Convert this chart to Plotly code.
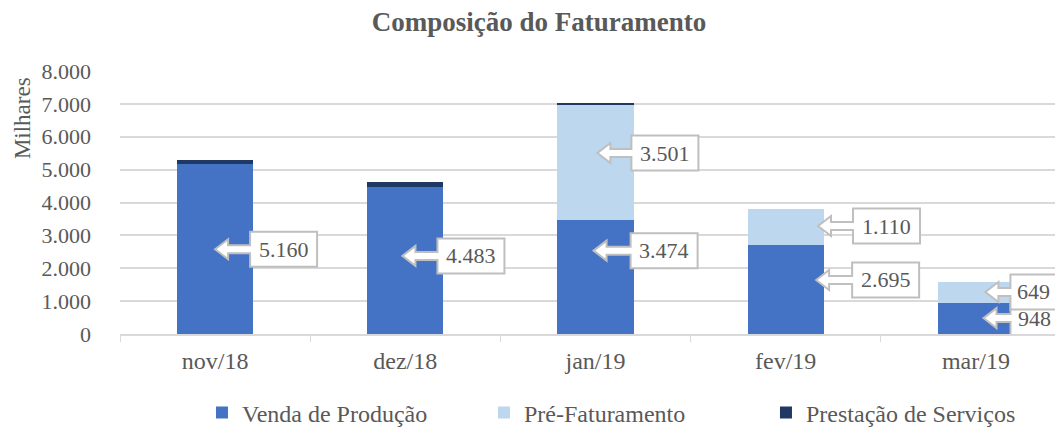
import plotly.graph_objects as go

categories = ["nov/18", "dez/18", "jan/19", "fev/19", "mar/19"]
venda_producao = [5160, 4483, 3474, 2695, 948]
pre_faturamento = [0, 0, 3501, 1110, 649]
prestacao_servicos = [120, 145, 40, 0, 0]

series_names = ["Venda de Produção", "Pré-Faturamento", "Prestação de Serviços"]
series_colors = ["#4472C4", "#BDD7EE", "#203864"]

# callout placement (style): (series index, category index, tip fraction within segment, tip x shift in category units, gap px)
callouts = [
    (0, 0, 0.50, 0.00, 35),
    (0, 1, 0.53, -0.015, 35),
    (0, 2, 0.73, -0.01, 37),
    (1, 2, 0.58, 0.01, 34),
    (0, 3, 0.61, 0.16, 36),
    (1, 3, 0.53, 0.17, 35),
    (0, 4, 0.51, 0.04, 27),
    (1, 4, 0.51, 0.05, 25),
]

GRAY = "#595959"
FONT = "Liberation Serif"

fig = go.Figure()
all_series = [venda_producao, pre_faturamento, prestacao_servicos]
for name, vals, col in zip(series_names, all_series, series_colors):
    fig.add_trace(go.Bar(
        x=categories, y=vals, name=name,
        marker=dict(color=col, line=dict(width=0)),
        width=0.4,
    ))


def fmt(v):
    return f"{v:,}".replace(",", ".")


for s, c, frac, dx, gap in callouts:
    base = sum(all_series[k][c] for k in range(s))
    val = all_series[s][c]
    ytip = base + val * frac
    xtip = c + dx
    label = fmt(val)
    w = 10 * len(label) + 17
    hh = 17.5
    path = (f"M0,0 L13,10 L13,4 L{gap},4 L{gap},{hh} L{gap + w},{hh} "
            f"L{gap + w},{-hh} L{gap},{-hh} L{gap},-4 L13,-4 L13,-10 Z")
    fig.add_shape(
        type="path", path=path,
        xref="x", yref="y", xsizemode="pixel", ysizemode="pixel",
        xanchor=xtip, yanchor=ytip,
        fillcolor="white", line=dict(color="#BFBFBF", width=2),
        layer="above",
    )
    fig.add_annotation(
        x=xtip, y=ytip, xref="x", yref="y",
        text=label, showarrow=False,
        xshift=gap + w / 2, yshift=0,
        font=dict(family=FONT, size=22, color=GRAY),
    )

fig.add_annotation(
    text="Milhares", xref="paper", yref="paper",
    x=-0.103, y=0.821, xanchor="center", yanchor="middle",
    textangle=-90, showarrow=False,
    font=dict(family=FONT, size=23, color=GRAY),
)

fig.update_layout(
    width=1063, height=429,
    paper_bgcolor="white", plot_bgcolor="white",
    barmode="stack", bargap=0.6,
    separators=",.",
    margin=dict(l=112, r=0, t=63, b=103),
    title=dict(text="<b>Composição do Faturamento</b>", x=0.4995, xanchor="center",
               y=0.9685, yanchor="middle",
               font=dict(family=FONT, size=27, color=GRAY)),
    font=dict(family=FONT, color=GRAY, size=22),
    legend=dict(orientation="h", x=0.0862, xanchor="left", y=-0.30, yanchor="middle",
                font=dict(family=FONT, size=24, color=GRAY),
                entrywidth=237, itemwidth=30, traceorder="normal"),
    xaxis=dict(type="category", range=[-0.5, 4.5], showgrid=False,
               showline=True, linecolor="#D9D9D9", linewidth=1.5,
               ticks="outside", tickson="boundaries", ticklen=6, tickcolor="#D9D9D9",
               ticklabelstandoff=4,
               tickfont=dict(family=FONT, size=24, color=GRAY)),
    yaxis=dict(range=[0, 8000], dtick=1000, tickformat=",d",
               showgrid=True, gridcolor="#D9D9D9", gridwidth=1.5,
               zeroline=False, showline=False, ticks="", ticklabelstandoff=28,
               tickfont=dict(family=FONT, size=22, color=GRAY)),
)

fig.write_html("out.html")
